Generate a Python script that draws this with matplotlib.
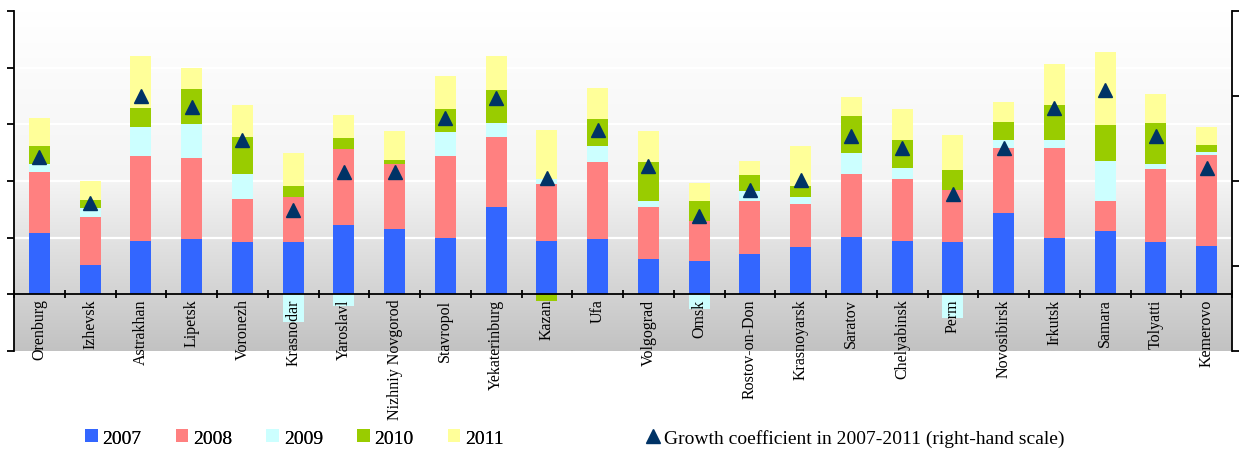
import numpy as np
import matplotlib
matplotlib.use("Agg")
import matplotlib.pyplot as plt
from matplotlib.colors import LinearSegmentedColormap
from matplotlib.patches import Patch
from matplotlib.lines import Line2D

plt.rcParams['font.family'] = ['Liberation Serif', 'DejaVu Serif']

cities = ["Orenburg", "Izhevsk", "Astrakhan", "Lipetsk", "Voronezh", "Krasnodar",
          "Yaroslavl", "Nizhniy Novgorod", "Stavropol", "Yekaterinburg", "Kazan", "Ufa",
          "Volgograd", "Omsk", "Rostov-on-Don", "Krasnoyarsk", "Saratov", "Chelyabinsk",
          "Perm", "Novosibirsk", "Irkutsk", "Samara", "Tolyatti", "Kemerovo"]

y2007 = [1.08, 0.51, 0.95, 0.97, 0.92, 0.92, 1.23, 1.15, 0.99, 1.55, 0.95, 0.97,
         0.63, 0.58, 0.71, 0.83, 1.01, 0.95, 0.92, 1.43, 0.99, 1.11, 0.92, 0.86]
y2008 = [1.08, 0.85, 1.50, 1.43, 0.76, 0.79, 1.34, 1.15, 1.46, 1.22, 1.00, 1.36,
         0.92, 0.72, 0.93, 0.76, 1.11, 1.09, 0.92, 1.15, 1.59, 0.53, 1.29, 1.60]
y2009 = [0.14, 0.16, 0.51, 0.60, 0.44, -0.49, -0.21, 0.0, 0.41, 0.25, 0.09, 0.28,
         0.09, -0.26, 0.18, 0.12, 0.37, 0.19, -0.41, 0.14, 0.14, 0.72, 0.09, 0.05]
y2010 = [0.32, 0.14, 0.32, 0.62, 0.65, 0.21, 0.19, 0.07, 0.41, 0.58, -0.12, 0.48,
         0.69, 0.35, 0.28, 0.21, 0.65, 0.49, 0.35, 0.32, 0.62, 0.63, 0.72, 0.12]
y2011 = [0.49, 0.34, 0.92, 0.37, 0.58, 0.58, 0.41, 0.51, 0.58, 0.60, 0.86, 0.55,
         0.55, 0.32, 0.26, 0.69, 0.35, 0.55, 0.63, 0.35, 0.72, 1.29, 0.51, 0.32]
growth = [2.28, 1.74, 3.00, 2.87, 2.48, 1.66, 2.11, 2.11, 2.74, 2.98, 2.04, 2.60,
          2.18, 1.59, 1.89, 2.01, 2.53, 2.39, 1.85, 2.39, 2.86, 3.07, 2.53, 2.15]

years = ["2007", "2008", "2009", "2010", "2011"]
series = [y2007, y2008, y2009, y2010, y2011]
colors = ["#3366FF", "#FF8080", "#CCFFFF", "#99CC00", "#FFFF99"]

fig = plt.figure(figsize=(12.4, 4.52), dpi=100)
ax = fig.add_axes([14 / 1240, 100 / 452, 1218 / 1240, 340 / 452])
x = np.arange(len(cities))

# background gradient (white at top, grey at bottom)
grad = np.linspace(0, 1, 256).reshape(-1, 1)
cmap = LinearSegmentedColormap.from_list("bg", ["#ffffff", "#f4f4f4", "#c2c2c2"])
ax.imshow(grad, aspect="auto", cmap=cmap, extent=[-0.5, 23.5, -1, 5],
          origin="upper", zorder=0)

for g in [1, 2, 3, 4]:
    ax.axhline(g, color="white", lw=1.6, zorder=1)

pos_bottom = np.zeros(len(cities))
neg_bottom = np.zeros(len(cities))
for vals, c in zip(series, colors):
    v = np.array(vals)
    bottom = np.where(v >= 0, pos_bottom, neg_bottom)
    ax.bar(x, v, width=0.41, bottom=bottom, color=c, zorder=2)
    pos_bottom += np.where(v >= 0, v, 0)
    neg_bottom += np.where(v < 0, v, 0)

ax.set_axisbelow(False)
ax.set_xlim(-0.5, 23.5)
ax.set_ylim(-1, 5)
ax.set_yticks(range(-1, 6))
ax.set_yticklabels([])
ax.tick_params(axis="y", direction="out", length=5, width=1.3)

ax.spines["top"].set_visible(False)
ax.spines["right"].set_visible(False)
ax.spines["bottom"].set_position(("data", 0))
ax.spines["bottom"].set_zorder(3)
for s in ["left", "bottom"]:
    ax.spines[s].set_linewidth(1.3)

ax.set_xticks(np.arange(-0.5, 24, 1))
ax.set_xticklabels([])
ax.tick_params(axis="x", which="major", direction="inout", length=6, width=1.3)
ax.set_xticks(x, minor=True)
ax.set_xticklabels(cities, minor=True, rotation=90, fontsize=11.5, va="top", ha="center")
ax.tick_params(axis="x", which="minor", length=0, pad=3)

ax2 = ax.twinx()
ax2.set_ylim(0, 4)
ax2.set_yticks(range(0, 5))
ax2.set_yticklabels([])
ax2.tick_params(axis="y", direction="out", length=5, width=1.3)
for s in ["top", "left", "bottom"]:
    ax2.spines[s].set_visible(False)
ax2.spines["right"].set_linewidth(1.3)
ax2.plot(x, growth, linestyle="none", marker="^", markersize=10,
         color="#003366", zorder=5)

handles = [Patch(facecolor=c, label=y) for c, y in zip(colors, years)]
leg1 = fig.legend(handles=handles, loc="center left", bbox_to_anchor=(85 / 1240, 1 - 439 / 452),
                  ncol=5, frameon=False, fontsize=14, handlelength=0.65, handleheight=0.65,
                  handletextpad=0.25, columnspacing=1.75, borderaxespad=0, borderpad=0)
fig.add_artist(leg1)
tri = Line2D([], [], linestyle="none", marker="^", markersize=10, color="#003366",
             label="Growth coefficient in 2007-2011 (right-hand scale)")
fig.legend(handles=[tri], loc="center left", bbox_to_anchor=(645 / 1240, 1 - 439 / 452),
           frameon=False, fontsize=14, handlelength=0.8, handletextpad=0.2,
           borderaxespad=0, borderpad=0)

fig.savefig("out.png", dpi=100)
